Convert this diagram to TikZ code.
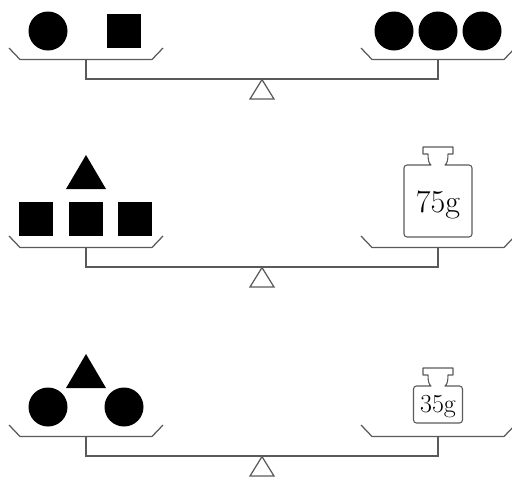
\documentclass[tikz,border=0pt]{standalone}
\usetikzlibrary{calc}
\definecolor{scaleline}{HTML}{5A5A5A}
\tikzset{
  frame/.style={draw=scaleline, line width=1.25pt, line join=miter},
  solid shape/.style={fill=black},
  weightline/.style={draw=scaleline, line width=1.1pt, line join=round},
  weightlabel/.style={inner sep=0pt, anchor=base, text=black}
}
% balance: pans, stems, beam and fulcrum, shifted down by #1
\newcommand\balanceframe[1]{%
  \begin{scope}[yshift=-#1pt]
    \path[frame] (9,48) -- (20,59.5) -- (152,59.5) -- (163,48);
    \path[frame] (361,48) -- (372,59.5) -- (504,59.5) -- (515,48);
    \path[frame] (86,59.5) -- (86,79) -- (438,79) -- (438,59.5);
    \path[frame] (262,79.6) -- (250,99) -- (274,99) -- cycle;
  \end{scope}}
% weight outline: centre x, shoulder y, half width, bottom y
\newcommand\weightoutline[4]{%
  \path[weightline]
    (#1-7,#2) [rounded corners=3] -- (#1-#3,#2) -- (#1-#3,#4) -- (#1+#3,#4)
    -- (#1+#3,#2) [sharp corners] -- (#1+7,#2)
    .. controls (#1+9,#2-1) and (#1+10,#2-5) .. (#1+10,#2-11)
    -- (#1+15,#2-11) -- (#1+15,#2-18) -- (#1-15,#2-18) -- (#1-15,#2-11)
    -- (#1-10,#2-11) .. controls (#1-10,#2-5) and (#1-9,#2-1) .. cycle;}
\begin{document}
\begin{tikzpicture}[x=1pt,y=-1pt]
  \useasboundingbox (0,0) rectangle (512,477);

  % first balance
  \balanceframe{0}
  \fill[solid shape] (48,31) circle[radius=19.5];
  \fill[solid shape] (107,14) rectangle (141,48);
  \fill[solid shape] (394,31) circle[radius=19.5];
  \fill[solid shape] (438,31) circle[radius=19.5];
  \fill[solid shape] (482,31) circle[radius=19.5];

  % second balance
  \balanceframe{188}
  \fill[solid shape] (86,155) -- (106,189) -- (66,189) -- cycle;
  \fill[solid shape] (19,202) rectangle (53,236);
  \fill[solid shape] (69,202) rectangle (103,236);
  \fill[solid shape] (118,202) rectangle (152,236);
  \weightoutline{438}{165}{34}{237}
  \node[weightlabel, font=\fontsize{32}{32}\selectfont] (w75) at (438,212) {75g};

  % third balance
  \balanceframe{377}
  \fill[solid shape] (86,354) -- (106,388) -- (66,388) -- cycle;
  \fill[solid shape] (48,407) circle[radius=19.5];
  \fill[solid shape] (124,407) circle[radius=19.5];
  \weightoutline{438}{386}{24.5}{423}
  \node[weightlabel, font=\fontsize{26}{26}\selectfont] (w35) at (438,412) {35g};
\end{tikzpicture}
\end{document}
